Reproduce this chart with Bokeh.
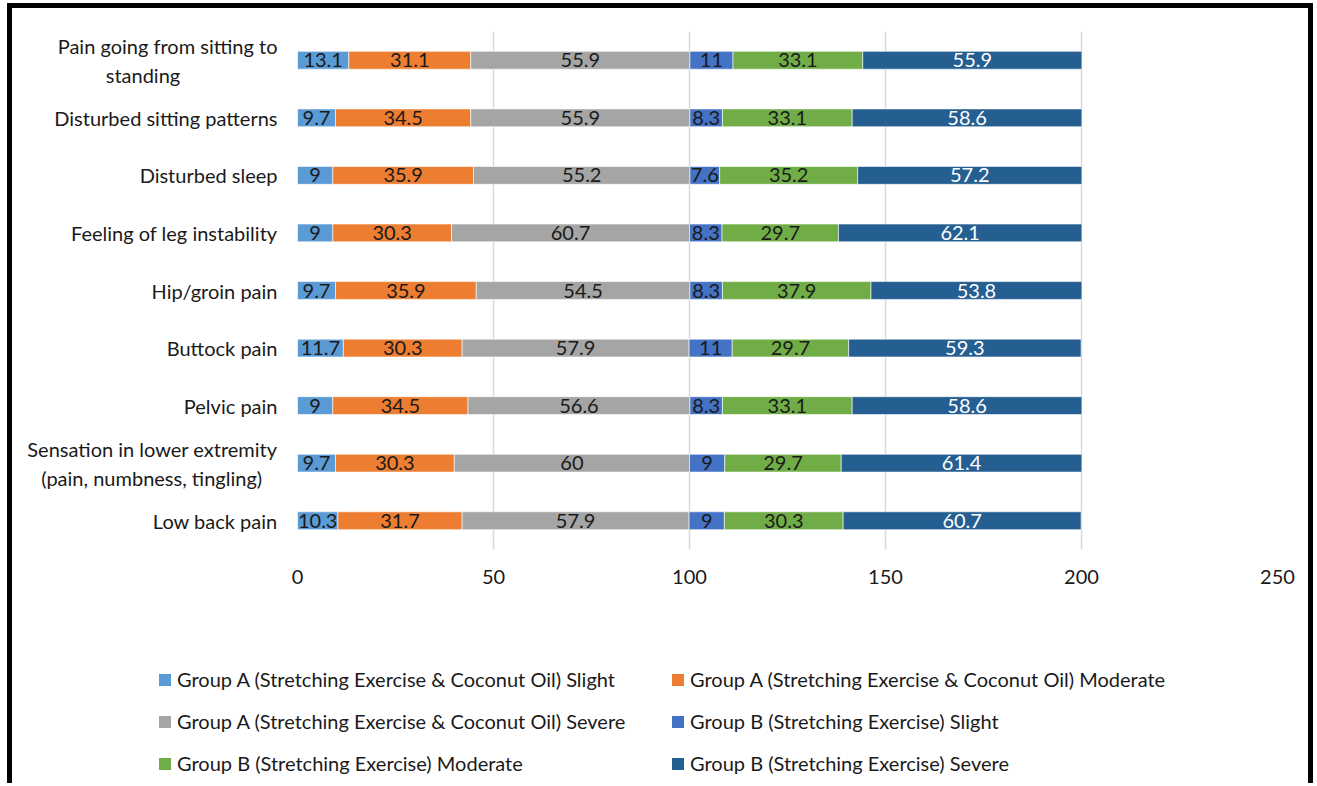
from bokeh.plotting import figure
from bokeh.layouts import column
from bokeh.models import (Range1d, ColumnDataSource, Legend, LegendItem, FixedTicker)
from bokeh.core.properties import value
from bokeh.embed import file_html
from bokeh.resources import INLINE

# ---- data (top to bottom as in the chart) ----
categories = [
    "Pain going from sitting to\nstanding",
    "Disturbed sitting patterns",
    "Disturbed sleep",
    "Feeling of leg instability",
    "Hip/groin pain",
    "Buttock pain",
    "Pelvic pain",
    "Sensation in lower extremity\n(pain, numbness, tingling)",
    "Low back pain",
]
series_names = [
    "Group A (Stretching Exercise & Coconut Oil) Slight",
    "Group A (Stretching Exercise & Coconut Oil) Moderate",
    "Group A (Stretching Exercise & Coconut Oil) Severe",
    "Group B (Stretching Exercise) Slight",
    "Group B (Stretching Exercise) Moderate",
    "Group B (Stretching Exercise) Severe",
]
a_slight   = [13.1, 9.7, 9.0, 9.0, 9.7, 11.7, 9.0, 9.7, 10.3]
a_moderate = [31.1, 34.5, 35.9, 30.3, 35.9, 30.3, 34.5, 30.3, 31.7]
a_severe   = [55.9, 55.9, 55.2, 60.7, 54.5, 57.9, 56.6, 60.0, 57.9]
b_slight   = [11.0, 8.3, 7.6, 8.3, 8.3, 11.0, 8.3, 9.0, 9.0]
b_moderate = [33.1, 33.1, 35.2, 29.7, 37.9, 29.7, 33.1, 29.7, 30.3]
b_severe   = [55.9, 58.6, 57.2, 62.1, 53.8, 59.3, 58.6, 61.4, 60.7]
x_ticks = [0, 50, 100, 150, 200, 250]

series_values = [a_slight, a_moderate, a_severe, b_slight, b_moderate, b_severe]
colors = ["#5B9BD5", "#ED7D31", "#A5A5A5", "#4472C4", "#70AD47", "#255E91"]
label_colors = ["#1a1a1a", "#1a1a1a", "#1a1a1a", "#1a1a1a", "#1a1a1a", "#ffffff"]

FONT = "Lato"
FS = "20px"
NB = "\u00a0"

n = len(categories)
ypos = [n - 1 - i for i in range(n)]   # first category at the top

p = figure(width=1296, height=592,
           x_range=Range1d(0, 250),
           y_range=Range1d(-0.5, n - 0.5),
           output_backend="svg", toolbar_location=None,
           min_border_left=285, min_border_right=31,
           min_border_top=23, min_border_bottom=51)

p.outline_line_color = None
p.background_fill_color = "white"
p.border_fill_color = "white"

left = [0.0] * n
for name, vals, col, lcol in zip(series_names, series_values, colors, label_colors):
    right = [l + v for l, v in zip(left, vals)]
    mid = [(l + r) / 2 for l, r in zip(left, right)]
    src = ColumnDataSource(dict(y=ypos, left=left, right=right, mid=mid,
                                label=[f"{v:g}" for v in vals]))
    p.hbar(y="y", left="left", right="right", height=0.31, source=src,
           fill_color=col, line_color="white", line_width=0.6)
    p.text(x="mid", y="y", text="label", source=src, text_align="center",
           text_baseline="middle", text_color=lcol, text_font=value(FONT),
           text_font_size=FS)
    left = right

# axes
p.xaxis.ticker = FixedTicker(ticks=x_ticks)
p.xaxis.axis_line_color = None
p.xaxis.major_tick_line_color = None
p.xaxis.minor_tick_line_color = None
p.xaxis.major_tick_out = 0
p.xaxis.major_tick_in = 0
p.xaxis.major_label_standoff = 20
p.xaxis.major_label_text_font = FONT
p.xaxis.major_label_text_font_size = FS
p.xaxis.major_label_text_color = "#1a1a1a"

p.yaxis.ticker = FixedTicker(ticks=ypos)
p.yaxis.axis_line_color = None
p.yaxis.major_tick_line_color = None
p.yaxis.minor_tick_line_color = None
p.yaxis.major_tick_out = 0
p.yaxis.major_tick_in = 0
p.yaxis.major_label_standoff = 20
p.yaxis.major_label_text_font = FONT
p.yaxis.major_label_text_font_size = FS
p.yaxis.major_label_text_color = "#1a1a1a"
y_labels = {}
for yv, cat in zip(ypos, categories):
    lab = cat
    if "\n" in cat:
        # pad the shorter second line so it sits centred under the first line
        l1, l2 = cat.split("\n")
        pad = 19 if len(l1) - len(l2) > 10 else 3
        lab = l1 + "\n" + l2 + NB * pad
    y_labels[yv] = lab
p.yaxis.major_label_overrides = y_labels

p.xgrid.grid_line_color = "#D9D9D9"
p.xgrid.grid_line_width = 1.5
p.ygrid.grid_line_color = None

# ---- legend in its own panel below ----
lf = figure(width=1296, height=183, x_range=Range1d(0, 1), y_range=Range1d(0, 1),
            output_backend="svg", toolbar_location=None,
            x_axis_location=None, y_axis_location=None,
            min_border=0, min_border_left=0, min_border_right=0,
            min_border_top=0, min_border_bottom=0)
lf.frame_align = False
lf.outline_line_color = None
lf.xgrid.visible = False
lf.ygrid.visible = False
items = []
for name, col in zip(series_names, colors):
    r = lf.hbar(y=[5], left=[3], right=[4], height=0.3, fill_color=col, line_color=None)
    items.append(LegendItem(label=name, renderers=[r]))

legend = Legend(items=items, orientation="horizontal", ncols=2,
                location=(145, 8),
                glyph_width=15, glyph_height=15, label_standoff=5,
                label_width=475, label_height=22, spacing=18,
                padding=0, margin=0, border_line_color=None,
                background_fill_alpha=0,
                label_text_font=FONT, label_text_font_size=FS,
                label_text_color="#1a1a1a")
lf.add_layout(legend, "center")

layout = column(p, lf, spacing=0,
                styles={"border-top": "5px solid black",
                        "border-left": "5px solid black",
                        "border-right": "5px solid black",
                        "margin-left": "7px", "margin-top": "3px"})

open("out.html", "w").write(file_html(layout, INLINE))
